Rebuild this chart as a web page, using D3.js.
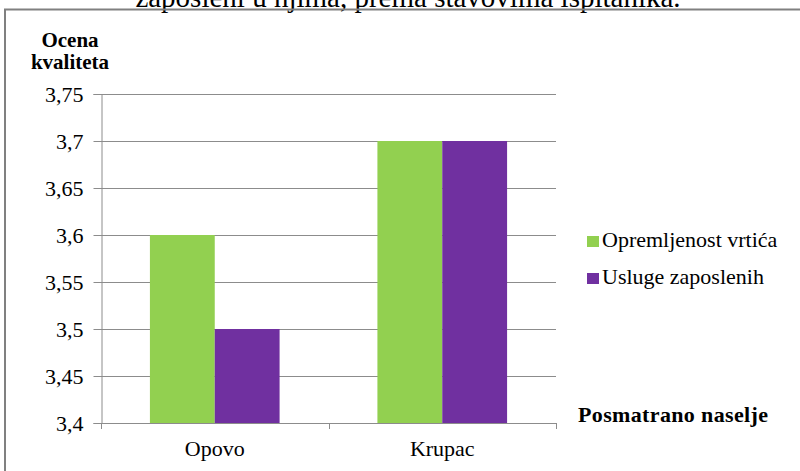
<!DOCTYPE html>
<html>
<head>
<meta charset="utf-8">
<script src="https://cdn.jsdelivr.net/npm/d3@7"></script>
<style>
  body { margin: 0; background: #fff; }
  svg { display: block; }
</style>
</head>
<body>
<div class="chart"></div>
<script>
var categories = ['Opovo', 'Krupac'];
var seriesNames = ['Opremljenost vrtića', 'Usluge zaposlenih'];
var seriesColors = ['#92D050', '#7030A0'];
var opremljenost = [3.6, 3.7];
var usluge = [3.5, 3.7];
var yTicks = [3.4, 3.45, 3.5, 3.55, 3.6, 3.65, 3.7, 3.75];
var yTickLabels = ['3,4', '3,45', '3,5', '3,55', '3,6', '3,65', '3,7', '3,75'];

var seriesValues = [opremljenost, usluge];

var width = 800, height = 471;
var plot = { left: 101, right: 556, top: 94, bottom: 423 };
var FONT = 'Liberation Serif';

var svg = d3.select('.chart')
    .append('svg')
    .attr('width', width)
    .attr('height', height);

// caption cut off at the top of the picture
svg.append('text')
    .attr('x', 408)
    .attr('y', 7)
    .attr('text-anchor', 'middle')
    .attr('font-size', 29)
    .text('zaposleni u njima, prema stavovima ispitanika.');

// frame
svg.append('path')
    .attr('d', 'M5,' + (height + 5) + 'V9.5H' + (width + 5))
    .attr('fill', 'none')
    .attr('stroke', '#808080')
    .attr('stroke-width', 2);

var y = d3.scaleLinear()
    .domain([3.4, 3.75])
    .range([plot.bottom, plot.top]);

var x0 = d3.scaleBand()
    .domain(categories)
    .range([plot.left, plot.right])
    .paddingInner(0.43)
    .paddingOuter(0.215);

var x1 = d3.scaleBand()
    .domain(seriesNames)
    .range([0, x0.bandwidth()]);

// gridlines
svg.append('g')
    .selectAll('line')
    .data(yTicks.slice(1))
    .enter()
    .append('line')
    .attr('x1', plot.left)
    .attr('x2', plot.right)
    .attr('y1', function (d) { return Math.round(y(d)) + 0.5; })
    .attr('y2', function (d) { return Math.round(y(d)) + 0.5; })
    .attr('stroke', '#8c8c8c')
    .attr('stroke-width', 1);

// bars
var rows = categories.map(function (c, i) {
    return seriesNames.map(function (s, j) {
        return { cat: c, series: s, value: seriesValues[j][i], color: seriesColors[j] };
    });
});

svg.append('g')
    .selectAll('g')
    .data(rows)
    .enter()
    .append('g')
    .attr('transform', function (d) { return 'translate(' + x0(d[0].cat) + ',0)'; })
    .selectAll('rect')
    .data(function (d) { return d; })
    .enter()
    .append('rect')
    .attr('x', function (d) { return x1(d.series); })
    .attr('width', x1.bandwidth())
    .attr('y', function (d) { return y(d.value); })
    .attr('height', function (d) { return y(3.4) - y(d.value); })
    .attr('fill', function (d) { return d.color; });

// y axis
var yAxis = d3.axisLeft(y)
    .tickValues(yTicks)
    .tickSize(8)
    .tickPadding(10)
    .tickFormat(function (d, i) { return yTickLabels[i]; });

var gy = svg.append('g')
    .attr('transform', 'translate(' + (plot.left + 0.5) + ',0)')
    .call(yAxis);
gy.selectAll('.domain, line').attr('stroke', '#8c8c8c');
gy.selectAll('text')
    .attr('font-size', 22)
    .attr('fill', '#000');

// x axis
var xTickPos = [plot.left, (x0('Opovo') + x0.bandwidth() + x0('Krupac')) / 2, plot.right];
var gx = svg.append('g');
gx.append('line')
    .attr('x1', plot.left)
    .attr('x2', plot.right)
    .attr('y1', plot.bottom + 0.5)
    .attr('y2', plot.bottom + 0.5)
    .attr('stroke', '#8c8c8c');
gx.selectAll('.tk')
    .data(xTickPos)
    .enter()
    .append('line')
    .attr('class', 'tk')
    .attr('x1', function (d) { return Math.round(d) + 0.5; })
    .attr('x2', function (d) { return Math.round(d) + 0.5; })
    .attr('y1', plot.bottom)
    .attr('y2', plot.bottom + 6)
    .attr('stroke', '#8c8c8c');
gx.selectAll('text')
    .data(categories)
    .enter()
    .append('text')
    .attr('x', function (d) { return x0(d) + x0.bandwidth() / 2; })
    .attr('y', 456)
    .attr('text-anchor', 'middle')
    .attr('font-size', 22)
    .text(function (d) { return d; });

// axis titles
var yTitle = svg.append('text')
    .attr('x', 70)
    .attr('font-size', 21)
    .attr('font-weight', 'bold')
    .attr('text-anchor', 'middle');
yTitle.append('tspan').attr('x', 70).attr('y', 47).text('Ocena');
yTitle.append('tspan').attr('x', 70).attr('y', 69).text('kvaliteta');

svg.append('text')
    .attr('x', 578)
    .attr('y', 422)
    .attr('font-size', 22)
    .attr('font-weight', 'bold')
    .attr('textLength', 190)
    .text('Posmatrano naselje');

// legend
var legend = svg.append('g')
    .selectAll('g')
    .data(seriesNames)
    .enter()
    .append('g')
    .attr('transform', function (d, i) { return 'translate(587,' + (236 + i * 37) + ')'; });

legend.append('rect')
    .attr('width', 12)
    .attr('height', 11)
    .attr('fill', function (d, i) { return seriesColors[i]; });

legend.append('text')
    .attr('x', 15)
    .attr('y', 11)
    .attr('font-size', 22)
    .text(function (d) { return d; });

// every text in the same serif face
svg.selectAll('text').style('font-family', FONT);
</script>
</body>
</html>
